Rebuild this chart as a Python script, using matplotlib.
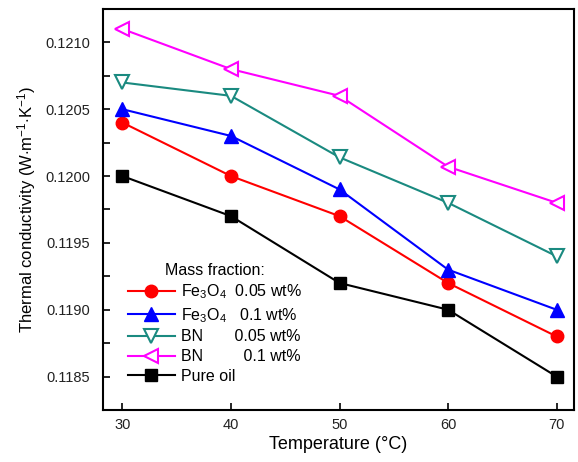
import matplotlib.pyplot as plt
import numpy as np
from matplotlib.ticker import MultipleLocator

plt.rcParams['font.family'] = ['Liberation Sans', 'DejaVu Sans']
plt.rcParams['mathtext.fontset'] = 'custom'
plt.rcParams['mathtext.rm'] = 'Liberation Sans'
plt.rcParams['mathtext.it'] = 'Liberation Sans'

# data
temps = [30, 40, 50, 60, 70]
fe_005 = [0.1204, 0.1200, 0.1197, 0.1192, 0.1188]
fe_01 = [0.1205, 0.1203, 0.1199, 0.1193, 0.1190]
bn_005 = [0.1207, 0.1206, 0.12014, 0.1198, 0.1194]
bn_01 = [0.1211, 0.1208, 0.1206, 0.12007, 0.1198]
pure_oil = [0.1200, 0.1197, 0.1192, 0.1190, 0.1185]

labels = [r"Fe$_3$O$_4$  0.05 wt%", r"Fe$_3$O$_4$   0.1 wt%",
          "BN       0.05 wt%", "BN         0.1 wt%", "Pure oil"]

fig = plt.figure(figsize=(5.78, 4.62), dpi=100)
ax = fig.add_axes([0.178, 0.1126, 0.815, 0.868])

ax.plot(temps, fe_005, color='red', marker='o', lw=1.5, ms=9, label=labels[0])
ax.plot(temps, fe_01, color='blue', marker='^', lw=1.5, ms=10, label=labels[1])
ax.plot(temps, bn_005, color='#1a8a80', marker='v', lw=1.5, ms=10,
        mfc='white', mew=1.5, label=labels[2])
ax.plot(temps, bn_01, color='#ff00ff', marker='<', lw=1.5, ms=10,
        mfc='white', mew=1.5, label=labels[3])
ax.plot(temps, pure_oil, color='black', marker='s', lw=1.5, ms=8, label=labels[4])

ax.set_xlim(28.2, 71.6)
ax.set_ylim(0.11825, 0.12125)
ax.set_xticks(temps)
ax.yaxis.set_major_locator(MultipleLocator(0.0005))
ax.yaxis.set_minor_locator(MultipleLocator(0.00025))
ax.yaxis.set_major_formatter(plt.FormatStrFormatter('%.4f'))
ax.tick_params(direction='in', length=5, width=1.2, labelsize=10.5, top=False, right=False,
               labelcolor='#222222')
ax.tick_params(axis='y', pad=9)
ax.tick_params(axis='x', pad=6)
ax.tick_params(which='minor', direction='in', length=5, width=1.2)
for s in ax.spines.values():
    s.set_linewidth(1.5)

ax.set_xlabel("Temperature (°C)", fontsize=13, labelpad=3)
ax.set_ylabel(r"Thermal conductivity (W$\cdot$m$^{-1}$$\cdot$K$^{-1}$)", fontsize=12, labelpad=5)

leg = ax.legend(loc='lower left', frameon=False, title="Mass fraction:", fontsize=11.5,
                title_fontsize=11.5, handlelength=2.9, borderaxespad=0.6,
                labelspacing=0.3, handletextpad=0.4, bbox_to_anchor=(0.02, 0.025))

fig.savefig("out.png", dpi=100)
